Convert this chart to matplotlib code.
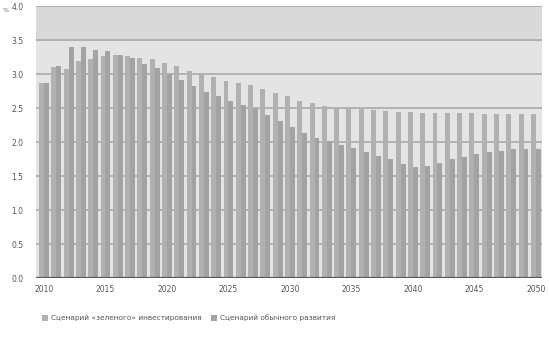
import matplotlib
matplotlib.use("Agg")
import matplotlib.pyplot as plt
import numpy as np

# data
years = list(range(2010, 2051))
green = [2.87, 3.10, 3.08, 3.19, 3.22, 3.27, 3.28, 3.27, 3.24, 3.22,
         3.16, 3.12, 3.05, 3.00, 2.95, 2.90, 2.87, 2.84, 2.78, 2.72,
         2.67, 2.60, 2.58, 2.53, 2.50, 2.50, 2.49, 2.47, 2.45, 2.44,
         2.44, 2.42, 2.42, 2.42, 2.42, 2.42, 2.41, 2.41, 2.41, 2.41, 2.41]
normal = [2.87, 3.12, 3.40, 3.40, 3.36, 3.34, 3.28, 3.23, 3.15, 3.09,
          3.00, 2.91, 2.82, 2.74, 2.67, 2.60, 2.55, 2.48, 2.39, 2.31,
          2.22, 2.13, 2.06, 2.01, 1.95, 1.91, 1.85, 1.80, 1.75, 1.67,
          1.63, 1.65, 1.69, 1.75, 1.78, 1.83, 1.86, 1.87, 1.89, 1.90, 1.90]
labels = ["Сценарий «зеленого» инвестирования", "Сценарий обычного развития"]
xtick_years = list(range(2010, 2051, 5))
yticks = np.arange(0, 4.01, 0.5)

fig = plt.figure(figsize=(5.49, 3.43), dpi=100)
ax = fig.add_axes([0.0656, 0.1895, 0.9214, 0.793])
ax.set_facecolor("#e4e4e4")

x = np.array(years)
w = 0.4
b1 = ax.bar(x - w / 2, green, width=w, color="#b1b1b1", label=labels[0], zorder=3)
b2 = ax.bar(x + w / 2, normal, width=w, color="#a3a3a3", label=labels[1], zorder=3)

# darker band at the top
ax.axhspan(3.5, 4.0, color="#d9d9d9", zorder=0)

for y in yticks[1:]:
    ax.axhline(y, color="#a9a9a9", lw=1.2, zorder=2)
ax.axhline(0, color="#5a5a5a", lw=1.6, zorder=4)

ax.set_xlim(2009.35, 2050.49)
ax.set_ylim(0, 4.0)
ax.set_yticks(yticks)
ax.set_yticklabels([f"{v:.1f}" for v in yticks])
ax.set_xticks(xtick_years)
ax.set_xticklabels([str(v) for v in xtick_years])
ax.tick_params(axis="both", length=0, labelsize=5.5, colors="#555555")
ax.tick_params(axis="y", pad=9)
ax.tick_params(axis="x", pad=5)
for s in ax.spines.values():
    s.set_visible(False)

fig.text(0.004, 0.968, "%", fontsize=4.5, color="#555555", va="center")

fig.legend(handles=[b1, b2], labels=labels, loc="center left",
           bbox_to_anchor=(0.065, 0.073), ncol=2, frameon=False,
           fontsize=5.3, handlelength=0.8, handleheight=0.8,
           columnspacing=1.2, handletextpad=0.4, labelcolor="#555555")

fig.savefig("out.png", dpi=100, facecolor="white")
